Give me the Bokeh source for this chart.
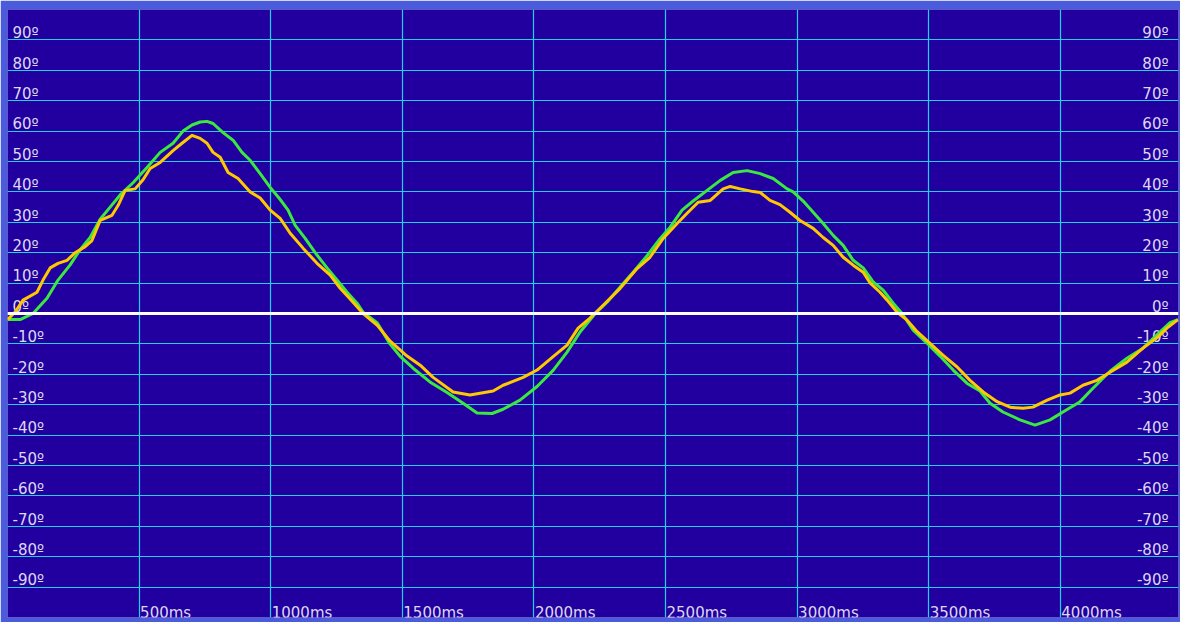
from bokeh.plotting import figure
from bokeh.models import FixedTicker, Span, Range1d
from bokeh.core.properties import value
from bokeh.embed import file_html
from bokeh.resources import INLINE

# ---- data (time in ms, angle in degrees) ----
green_t = [0, 48, 97, 150, 192, 238, 276, 314, 352, 390, 428, 477, 530, 580, 629, 667, 701, 732, 758,
           781, 819, 857, 891, 922, 960, 998, 1036, 1066, 1093, 1131, 1169, 1214, 1252, 1290, 1328, 1351,
           1404, 1453, 1491, 1541, 1605, 1670, 1731, 1784, 1841, 1883, 1947, 2012, 2073, 2126, 2176, 2233,
           2278, 2327, 2377, 2430, 2480, 2517, 2563, 2605, 2658, 2708, 2757, 2810, 2860, 2909, 2962, 2985,
           3023, 3061, 3099, 3137, 3175, 3213, 3251, 3289, 3327, 3365, 3399, 3441, 3494, 3543, 3593, 3646,
           3695, 3733, 3782, 3847, 3904, 3961, 4010, 4075, 4124, 4189, 4253, 4314, 4367, 4417, 4447]
green_deg = [-2, -2, 0, 5, 11, 16, 21, 25, 31, 35, 39, 43, 48, 53, 56, 60, 62, 63, 63.2,
             62.5, 59.5, 57, 53, 50.4, 46, 41.5, 37.5, 34, 29, 24.7, 20, 15, 11, 7, 3.4, 0.4,
             -3, -10, -14, -18, -22.5, -26, -29.5, -32.7, -32.9, -31.5, -28.5, -24, -18.7, -12.7, -6, 0,
             3.7, 8.6, 13.6, 19, 24.7, 28.3, 34, 37, 40.5, 43.8, 46.4, 47, 46, 44.4, 41, 40,
             37, 33.3, 29.6, 25.7, 22.4, 17.5, 15, 10.4, 7.7, 3.4, 0, -5.5, -9.8, -14, -18.6, -23,
             -25.5, -29.5, -32.4, -35, -36.7, -35, -32.4, -29, -24.6, -19, -14.7, -11.4, -7, -3, -2]

yellow_t = [0, 29, 59, 112, 135, 162, 192, 226, 257, 295, 321, 352, 397, 420, 447, 485, 515, 542, 580,
            629, 663, 701, 732, 758, 781, 808, 838, 876, 922, 960, 998, 1036, 1074, 1123, 1176, 1226, 1264,
            1313, 1351, 1404, 1453, 1518, 1568, 1617, 1693, 1757, 1845, 1883, 1959, 2012, 2073, 2126, 2168,
            2213, 2263, 2327, 2392, 2441, 2491, 2544, 2582, 2624, 2670, 2719, 2746, 2784, 2833, 2860, 2897,
            2935, 2973, 3011, 3061, 3099, 3137, 3175, 3213, 3251, 3278, 3315, 3342, 3380, 3418, 3456, 3505,
            3554, 3608, 3657, 3707, 3760, 3809, 3858, 3896, 3950, 3999, 4037, 4086, 4139, 4189, 4253, 4314,
            4367, 4405, 4447]
yellow_deg = [-2, 0.5, 4.4, 7, 11, 15, 16.5, 17.5, 20, 22, 24, 30.6, 32.3, 35.5, 40.5, 41, 44, 47.7, 49.7,
              53.6, 56, 58.6, 57.6, 56, 53, 51.4, 46.4, 44.4, 40, 38, 34, 31.3, 26.4, 21.5, 16.5, 12.6, 8.3,
              3.7, 0, -3.8, -9, -14, -17, -21, -25.8, -26.8, -25.5, -23.6, -21, -18.6, -14.2, -10.4, -4.8,
              -1.5, 2.7, 8.2, 14.8, 18.5, 24.7, 29.6, 33, 36.6, 37.2, 41, 41.8, 41, 40.1, 39.8, 37.2,
              35.8, 33.3, 30.6, 28, 25, 22.4, 18.5, 15.9, 13.6, 10, 7, 4.4, 0.4, -2.2, -6, -9.8,
              -13.7, -17.6, -22, -25.8, -29, -30.8, -31.2, -30.8, -28.5, -26.8, -26.2, -23.6, -22, -19.3, -16, -11.4,
              -8, -4.8, -2]

y_ticks = [90, 80, 70, 60, 50, 40, 30, 20, 10, 0, -10, -20, -30, -40, -50, -60, -70, -80, -90]
y_tick_labels = ["90º", "80º", "70º", "60º", "50º", "40º", "30º", "20º", "10º", "0º",
                 "-10º", "-20º", "-30º", "-40º", "-50º", "-60º", "-70º", "-80º", "-90º"]
x_ticks = [500, 1000, 1500, 2000, 2500, 3000, 3500, 4000]
x_tick_labels = ["500ms", "1000ms", "1500ms", "2000ms", "2500ms", "3000ms", "3500ms", "4000ms"]

X0, X1 = 0, 4449
Y0, Y1 = -100, 100

BG = "#2200A0"
BORDER = "#4A5CDC"
GRID = "#22D0EA"
TXT = "#DCD8F2"
FONT = value("DejaVu Sans")
FSIZE = value("15px")

p = figure(width=1180, height=622, x_range=Range1d(X0, X1), y_range=Range1d(Y0, Y1),
           output_backend="svg", toolbar_location=None,
           min_border_left=7, min_border_right=2, min_border_top=9, min_border_bottom=5)
p.axis.visible = False
p.background_fill_color = BG
p.border_fill_color = BORDER
p.outline_line_color = None

p.xgrid.ticker = FixedTicker(ticks=x_ticks)
p.ygrid.ticker = FixedTicker(ticks=y_ticks)
p.xgrid.grid_line_color = GRID
p.ygrid.grid_line_color = GRID
p.xgrid.grid_line_width = 1.2
p.ygrid.grid_line_width = 1.2

# tick labels inside the plot
p.text(x=[X0] * len(y_ticks), y=[v + 2.2 for v in y_ticks], text=y_tick_labels,
       x_offset=5, text_align="left", text_baseline="alphabetic",
       text_color=TXT, text_font=FONT, text_font_size=FSIZE)
p.text(x=[X1] * len(y_ticks), y=[v + 2.2 for v in y_ticks], text=y_tick_labels,
       x_offset=-10, text_align="right", text_baseline="alphabetic",
       text_color=TXT, text_font=FONT, text_font_size=FSIZE)
p.text(x=x_ticks, y=[Y0 + 1.6] * len(x_ticks), text=x_tick_labels,
       x_offset=1, text_align="left", text_baseline="alphabetic",
       text_color=TXT, text_font=FONT, text_font_size=FSIZE)

p.add_layout(Span(location=0, dimension="width", line_color="white", line_width=3))

p.line(green_t, green_deg, line_color="#3BE83F", line_width=3, line_join="round")
p.line(yellow_t, yellow_deg, line_color="#FFC800", line_width=3, line_join="round")

open("out.html", "w").write(file_html(p, INLINE))
